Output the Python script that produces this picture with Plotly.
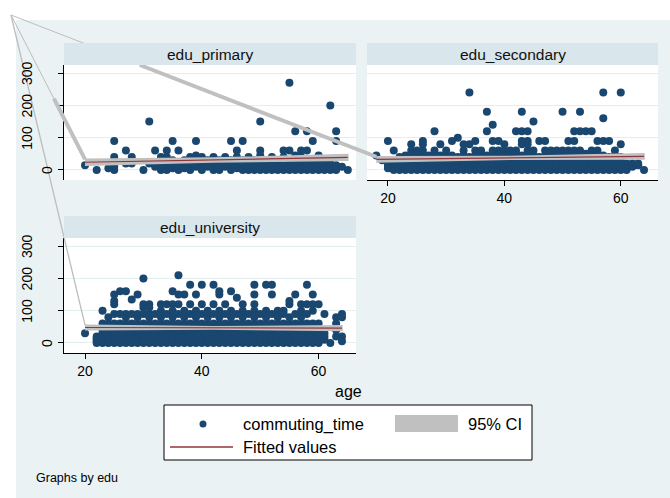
import plotly.graph_objects as go

W, H = 670, 498
FONT = "Liberation Sans, Arial, sans-serif"
NAVY = "#1a476f"
MAROON = "#90353b"
CI_GRAY = "#c0c0c0"
BG = "#eaf2f3"
STRIP = "#d9e6eb"
GRID = "#e4edf0"

# ---------------- data ----------------
panel_titles = ["edu_primary", "edu_secondary", "edu_university"]
x_ticks = [20, 40, 60]
y_ticks = [0, 100, 200, 300]
x_title = "age"
legend_labels = ["commuting_time", "95% CI", "Fitted values"]
note_text = "Graphs by edu"

# (age, commuting times observed at that age)
primary_rows = [
    (20, [15]), (22, [0]), (24, [5]), (25, [0, 10, 40, 90]), (27, [60, 20]),
    (28, [40, 20]), (30, [0]), (31, [150, 20]), (32, [60, 20, 10]),
    (33, [40, 0, 10]), (34, [60, 0, 20, 40]), (35, [90, 10, 30, 5]),
    (36, [60, 10, 20, 0]), (37, [15, 30, 5]), (38, [0, 20, 40, 10]),
    (39, [90, 10, 30, 45]), (40, [0, 20, 40, 5]), (41, [10, 30, 15]),
    (42, [0, 20, 40]), (43, [5, 15, 30, 0]), (44, [10, 20, 40]),
    (45, [90, 0, 20, 30]), (46, [60, 5, 15, 40]), (47, [90, 10, 30, 0]),
    (48, [0, 20, 10, 40]), (49, [5, 15, 30, 0]), (50, [150, 60, 0, 10, 20, 45]),
    (51, [0, 5, 15, 30]), (52, [10, 20, 0, 40]), (53, [0, 5, 20, 30]),
    (54, [60, 0, 10, 15, 40]), (55, [270, 60, 0, 5, 20, 30]),
    (56, [120, 0, 10, 20, 45]), (57, [60, 0, 15, 30, 40]),
    (58, [120, 60, 0, 5, 20]), (59, [90, 0, 10, 30]), (60, [0, 5, 20, 45]),
    (61, [0, 10, 30]), (62, [200, 0, 5, 20]), (63, [120, 90, 15, 0]),
    (64, [10]), (65, [0]),
]

secondary_rows = [
    (18, [45]), (19, [30]), (20, [90, 10, 20, 5]), (21, [60, 0, 10, 20, 30]),
    (22, [0, 5, 15, 20, 30, 40]), (23, [0, 10, 15, 25, 30, 45]),
    (24, [80, 60, 0, 5, 10, 20, 30, 40]), (25, [60, 0, 10, 15, 20, 30, 45]),
    (26, [90, 80, 60, 0, 5, 10, 20, 30, 40]), (27, [0, 10, 15, 20, 30, 45]),
    (28, [120, 60, 0, 5, 10, 20, 30, 40]), (29, [80, 0, 10, 15, 20, 30, 45]),
    (30, [60, 0, 5, 10, 20, 30, 40]), (31, [90, 0, 10, 15, 20, 30, 45]),
    (32, [100, 0, 5, 10, 20, 30, 40]), (33, [80, 60, 0, 10, 15, 20, 30, 45]),
    (34, [240, 80, 0, 5, 10, 20, 30, 40]), (35, [90, 60, 0, 10, 15, 20, 30, 45]),
    (36, [60, 0, 5, 10, 20, 30, 40, 50]), (37, [180, 120, 0, 10, 15, 20, 30, 45]),
    (38, [140, 90, 60, 0, 5, 10, 20, 30, 40]), (39, [90, 0, 10, 15, 20, 30, 45, 60]),
    (40, [80, 60, 0, 5, 10, 20, 30, 40]), (41, [60, 0, 10, 15, 20, 30, 45]),
    (42, [120, 60, 0, 5, 10, 20, 30, 40, 50]),
    (43, [180, 120, 90, 80, 0, 10, 15, 20, 30, 45]),
    (44, [120, 90, 80, 60, 0, 5, 10, 20, 30, 40]),
    (45, [150, 0, 10, 15, 20, 30, 45, 60]), (46, [90, 0, 5, 10, 20, 30, 40]),
    (47, [90, 60, 0, 10, 15, 20, 30, 45]), (48, [60, 0, 5, 10, 20, 30, 40]),
    (49, [60, 0, 10, 15, 20, 30, 45]), (50, [180, 60, 0, 5, 10, 20, 30, 40]),
    (51, [90, 60, 0, 10, 15, 20, 30, 45]), (52, [120, 90, 60, 0, 5, 10, 20, 30, 40]),
    (53, [180, 120, 60, 0, 10, 15, 20, 30, 45]), (54, [120, 0, 5, 10, 20, 30, 40, 50]),
    (55, [120, 60, 0, 10, 15, 20, 30, 45]), (56, [90, 60, 0, 5, 10, 20, 30, 40]),
    (57, [240, 160, 90, 0, 10, 15, 20, 30, 45]), (58, [90, 0, 5, 10, 20, 30, 40]),
    (59, [60, 0, 10, 15, 20, 30, 45]), (60, [240, 80, 0, 5, 10, 20, 30, 40]),
    (61, [0, 10, 20, 5]), (62, [20, 10]), (63, [15, 20]), (64, [0]),
]

university_rows = [
    (20, [30]), (22, [0, 5, 10, 15, 20]), (23, [100, 0, 5, 10, 20, 30, 40, 60]),
    (24, [0, 5, 10, 20, 30, 45, 60, 80]),
    (25, [150, 130, 120, 0, 5, 10, 15, 20, 30, 40, 60, 90]),
    (26, [160, 0, 10, 20, 30, 45, 60, 90]),
    (27, [160, 0, 5, 10, 20, 30, 40, 60, 80, 90]),
    (28, [135, 0, 5, 10, 15, 20, 30, 45, 60, 90]),
    (29, [150, 0, 5, 10, 20, 30, 40, 60, 80, 90]),
    (30, [200, 120, 110, 0, 5, 10, 15, 20, 30, 45, 60, 90]),
    (31, [120, 110, 0, 5, 10, 20, 30, 40, 60, 80, 90]),
    (32, [0, 5, 10, 15, 20, 30, 45, 60, 90]),
    (33, [120, 0, 5, 10, 20, 30, 40, 60, 80, 100]),
    (34, [120, 0, 5, 10, 15, 20, 30, 45, 60, 90]),
    (35, [160, 120, 0, 5, 10, 20, 30, 40, 60, 80, 100]),
    (36, [210, 150, 0, 5, 10, 15, 20, 30, 45, 60, 90, 120]),
    (37, [150, 0, 5, 10, 20, 30, 40, 60, 80, 100]),
    (38, [180, 120, 0, 5, 10, 15, 20, 30, 45, 60, 90]),
    (39, [150, 0, 5, 10, 20, 30, 40, 60, 80, 100]),
    (40, [180, 120, 0, 5, 10, 15, 20, 30, 45, 60, 90]),
    (41, [0, 5, 10, 20, 30, 40, 60, 80, 100]),
    (42, [180, 120, 0, 5, 10, 15, 20, 30, 45, 60, 90]),
    (43, [160, 150, 0, 5, 10, 20, 30, 40, 60, 80, 100]),
    (44, [120, 0, 5, 10, 15, 20, 30, 45, 60, 90]),
    (45, [160, 0, 5, 10, 20, 30, 40, 60, 80, 100]),
    (46, [140, 0, 5, 10, 15, 20, 30, 45, 60, 90]),
    (47, [120, 0, 5, 10, 20, 30, 40, 60, 80, 100]),
    (48, [0, 5, 10, 15, 20, 30, 45, 60, 90]),
    (49, [180, 150, 120, 0, 5, 10, 20, 30, 40, 60, 80, 100]),
    (50, [0, 5, 10, 15, 20, 30, 45, 60, 90]),
    (51, [180, 0, 5, 10, 20, 30, 40, 60, 80, 100]),
    (52, [180, 150, 0, 5, 10, 15, 20, 30, 45, 60, 90]),
    (53, [100, 0, 5, 10, 20, 30, 40, 60, 80]),
    (54, [100, 0, 5, 10, 15, 20, 30, 45, 60, 90]),
    (55, [130, 120, 0, 5, 10, 20, 30, 40, 60, 80]),
    (56, [150, 0, 5, 10, 15, 20, 30, 45, 60, 90]),
    (57, [120, 0, 5, 10, 20, 30, 40, 60, 80, 100]),
    (58, [180, 120, 0, 5, 10, 15, 20, 30, 45, 60, 90]),
    (59, [150, 120, 0, 5, 10, 20, 30, 40, 60, 100]),
    (60, [120, 0, 5, 10, 15, 20, 30, 45, 60]),
    (61, [90, 10, 20, 30]), (62, [0]), (63, [80, 20, 40, 60]), (64, [90, 5, 20, 80]),
]

# fitted values and 95% CI
fit_age_primary = [20, 42, 65]
fit_primary = [24, 31, 39]
ci_lo_primary = [15, 25, 30]
ci_hi_primary = [33, 37, 48]

fit_age_secondary = [18, 41, 64]
fit_secondary = [33, 37.5, 42]
ci_lo_secondary = [25, 33.5, 34]
ci_hi_secondary = [41, 41.5, 50]

fit_age_university = [20, 42, 64]
fit_university = [48, 47, 46]
ci_lo_university = [41, 43.5, 39]
ci_hi_university = [55, 50.5, 53]


def flatten(rows):
    ages, times = [], []
    for a, vals in rows:
        for v in vals:
            ages.append(a)
            times.append(v)
    return ages, times


primary_age, primary_time = flatten(primary_rows)
secondary_age, secondary_time = flatten(secondary_rows)
university_age, university_time = flatten(university_rows)

panels = [
    (primary_age, primary_time, fit_age_primary, fit_primary, ci_lo_primary, ci_hi_primary),
    (secondary_age, secondary_time, fit_age_secondary, fit_secondary, ci_lo_secondary, ci_hi_secondary),
    (university_age, university_time, fit_age_university, fit_university, ci_lo_university, ci_hi_university),
]

# ---------------- layout geometry (pixels) ----------------
X_RANGE = [16.4, 66.4]
Y_RANGE = [-31, 325]
BOXES = [(64, 356, 65, 180), (367, 658, 65, 180), (64, 356, 238, 353)]  # l, r, t, b
STRIP_H = 22
CORNER = (11, 15)


def fx(px):
    return px / W


def fy(py):
    return 1 - py / H


def to_px(i, age, val):
    l, r, t, b = BOXES[i]
    x = l + (age - X_RANGE[0]) / (X_RANGE[1] - X_RANGE[0]) * (r - l)
    y = b - (val - Y_RANGE[0]) / (Y_RANGE[1] - Y_RANGE[0]) * (b - t)
    return x, y


fig = go.Figure()
suffix = ["", "2", "3"]

for i, (ages, times, fa, fv, lo, hi) in enumerate(panels):
    xa, ya = "x" + suffix[i], "y" + suffix[i]
    fig.add_trace(go.Scatter(x=ages, y=times, mode="markers", xaxis=xa, yaxis=ya,
                             marker=dict(color=NAVY, size=8, line=dict(width=0)),
                             hoverinfo="skip"))
    fig.add_trace(go.Scatter(x=fa + fa[::-1], y=hi + lo[::-1], mode="lines", fill="toself",
                             fillcolor=CI_GRAY, line=dict(color=CI_GRAY, width=1.5),
                             xaxis=xa, yaxis=ya, hoverinfo="skip"))
    fig.add_trace(go.Scatter(x=fa, y=fv, mode="lines", line=dict(color=MAROON, width=1.1),
                             xaxis=xa, yaxis=ya, hoverinfo="skip"))

layout = dict(
    width=W, height=H, margin=dict(l=0, r=0, t=0, b=0),
    paper_bgcolor=BG, plot_bgcolor="white", showlegend=False,
    font=dict(family=FONT, color="black"),
)

for i, (l, r, t, b) in enumerate(BOXES):
    s = suffix[i]
    has_x = i in (1, 2)
    has_y = i in (0, 2)
    layout["xaxis" + s] = dict(
        domain=[fx(l), fx(r)], range=X_RANGE, anchor="y" + s,
        showgrid=False, zeroline=False,
        showline=has_x, linecolor="black", linewidth=1,
        ticks="outside" if has_x else "", ticklen=5, tickcolor="black",
        tickvals=x_ticks, showticklabels=has_x,
        tickfont=dict(size=14, family=FONT, color="black"),
        ticklabelstandoff=0,
    )
    layout["yaxis" + s] = dict(
        domain=[fy(b), fy(t)], range=Y_RANGE, anchor="x" + s,
        showgrid=True, gridcolor=GRID, gridwidth=1, zeroline=False,
        showline=has_y, linecolor="black", linewidth=1,
        ticks="outside" if has_y else "", ticklen=5, tickcolor="black",
        tickvals=y_ticks, showticklabels=False,
    )

shapes = []
# white outer margin (top strip and left strip)
shapes.append(dict(type="rect", xref="paper", yref="paper", x0=0, x1=1, y0=fy(20), y1=1,
                   fillcolor="white", line=dict(width=0), layer="below"))
shapes.append(dict(type="rect", xref="paper", yref="paper", x0=0, x1=fx(16), y0=0, y1=1,
                   fillcolor="white", line=dict(width=0), layer="below"))

# stray CI outline strokes running from the graph corner to each band's first vertex
thick_from = [0.58, None, None]
for i, (ages, times, fa, fv, lo, hi) in enumerate(panels):
    ex, ey = to_px(i, fa[0], hi[0])
    cx, cy = CORNER
    shapes.append(dict(type="line", xref="paper", yref="paper",
                       x0=fx(cx), y0=fy(cy), x1=fx(ex), y1=fy(ey),
                       line=dict(color="#bdbdbd", width=1.3 if i == 2 else 1), layer="above"))
    t0 = thick_from[i]
    if i == 1:
        t0 = (BOXES[0][2] - cy) / (ey - cy)
    if t0 is not None:
        sx, sy = cx + t0 * (ex - cx), cy + t0 * (ey - cy)
        shapes.append(dict(type="line", xref="paper", yref="paper",
                           x0=fx(sx), y0=fy(sy), x1=fx(ex), y1=fy(ey),
                           line=dict(color=CI_GRAY, width=4), layer="above"))

# title strips
annotations = []
for i, (l, r, t, b) in enumerate(BOXES):
    shapes.append(dict(type="rect", xref="paper", yref="paper",
                       x0=fx(l), x1=fx(r), y0=fy(t), y1=fy(t - STRIP_H),
                       fillcolor=STRIP, line=dict(width=0), layer="above"))
    annotations.append(dict(text=panel_titles[i], xref="paper", yref="paper",
                            x=fx((l + r) / 2), y=fy(t - STRIP_H / 2), showarrow=False,
                            xanchor="center", yanchor="middle",
                            font=dict(size=15.5, family=FONT, color="#111111")))

# rotated y tick labels (panels 1 and 3)
for i in (0, 2):
    for v in y_ticks:
        lab = str(v)
        annotations.append(dict(text=lab, xref="paper", yref="y" + suffix[i],
                                x=fx(57 - 10 * len(lab)), y=v, textangle=-90,
                                showarrow=False, xanchor="center", yanchor="middle",
                                font=dict(size=14, family=FONT, color="black")))

# x axis title
annotations.append(dict(text=x_title, xref="paper", yref="paper", x=fx(348), y=fy(391),
                        showarrow=False, xanchor="center", yanchor="middle",
                        font=dict(size=16, family=FONT, color="black")))

# legend box
shapes.append(dict(type="rect", xref="paper", yref="paper", x0=fx(164), x1=fx(532),
                   y0=fy(460), y1=fy(405), fillcolor="white",
                   line=dict(color="black", width=1), layer="above"))
shapes.append(dict(type="circle", xref="paper", yref="paper", x0=fx(199.5), x1=fx(206.5),
                   y0=fy(427.5), y1=fy(420.5), fillcolor=NAVY, line=dict(width=0), layer="above"))
shapes.append(dict(type="rect", xref="paper", yref="paper", x0=fx(395), x1=fx(458),
                   y0=fy(432), y1=fy(415), fillcolor=CI_GRAY, line=dict(width=0), layer="above"))
shapes.append(dict(type="line", xref="paper", yref="paper", x0=fx(170), x1=fx(233),
                   y0=fy(447), y1=fy(447), line=dict(color=MAROON, width=1.5), layer="above"))
for text, x, y in [(legend_labels[0], 241, 424), (legend_labels[1], 466, 424),
                   (legend_labels[2], 241, 447)]:
    annotations.append(dict(text=text, xref="paper", yref="paper", x=fx(x), y=fy(y),
                            showarrow=False, xanchor="left", yanchor="middle",
                            font=dict(size=16.5, family=FONT, color="black")))

annotations.append(dict(text=note_text, xref="paper", yref="paper", x=fx(34), y=fy(478),
                        showarrow=False, xanchor="left", yanchor="middle",
                        font=dict(size=12.5, family=FONT, color="black")))

layout["shapes"] = shapes
layout["annotations"] = annotations
fig.update_layout(**layout)
fig.write_html("out.html")
